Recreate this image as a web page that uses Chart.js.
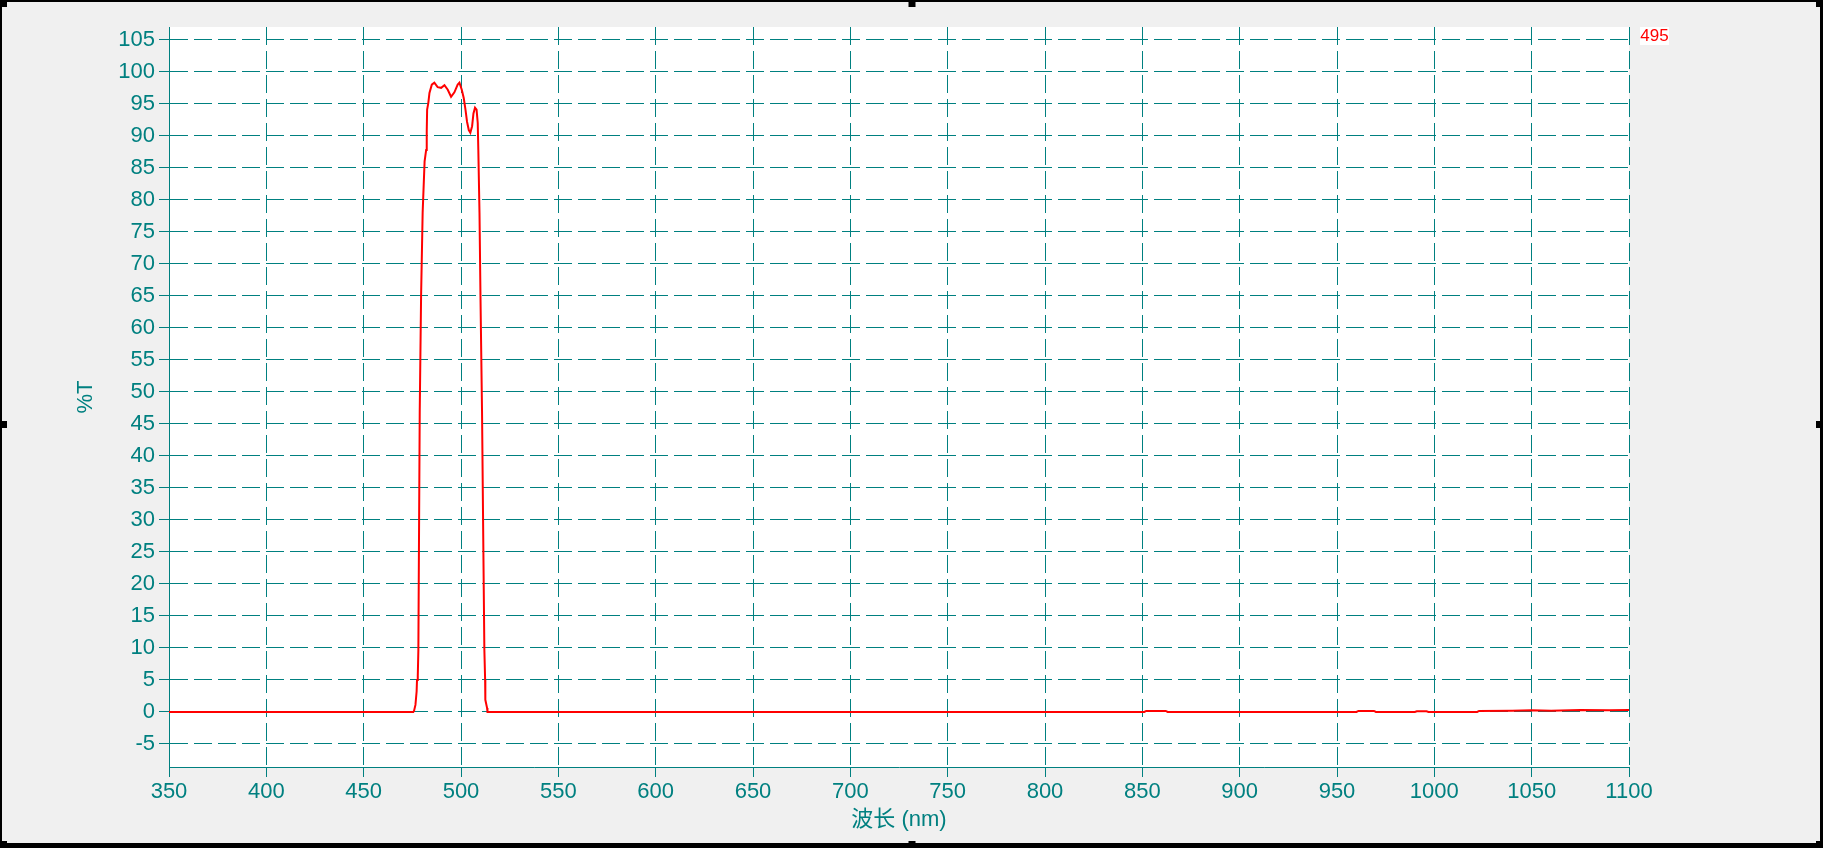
<!DOCTYPE html>
<html>
<head>
<meta charset="utf-8">
<script src="https://cdn.jsdelivr.net/npm/chart.js@4/dist/chart.umd.min.js"></script>
<style>
  html, body { margin: 0; padding: 0; background: #f0f0f0; }
  canvas { display: block; }
</style>
</head>
<body>
<canvas id="myChart" width="1823" height="848"></canvas>
<script>
// wavelength (nm) and transmittance (%T)
const wavelengths = [350, 475.5, 475.9, 476.6, 477.2, 477.4, 477.8, 478.1, 478.8, 479.5, 480.3, 481.3, 482.1,
  482.4, 482.6, 483.2, 483.8, 485.0, 486.3, 488.0, 489.8, 491.5, 493.2, 494.9, 496.6, 498.3, 499.2,
  500.4, 501.4, 502.3, 503.1, 504.0, 504.8, 505.7, 506.4, 507.2, 508.0, 508.6, 508.9, 509.5, 510.0,
  510.8, 511.5, 512.0, 512.4, 512.5, 513.4, 513.6,
  851, 852, 862, 863, 960, 961, 969, 970, 990, 991, 996, 997, 1022, 1023, 1040, 1050, 1060, 1075, 1090, 1100];
const transmittance = [0, 0, 0.2, 1.1, 3.2, 5.0, 5.6, 9.7, 47, 65, 78, 86, 87.8,
  90.7, 94.1, 95.1, 96.7, 98.0, 98.3, 97.6, 97.5, 97.9, 97.2, 96.1, 96.8, 98.0, 98.3,
  97.2, 95.9, 94.1, 92.2, 90.9, 90.5, 91.5, 93.5, 94.4, 94.1, 92.0, 87.8, 78, 65,
  47, 25, 9.7, 5.0, 1.9, 0.6, 0,
  0, 0.16, 0.16, 0, 0, 0.16, 0.16, 0, 0, 0.1, 0.1, 0, 0, 0.16, 0.2, 0.25, 0.2, 0.3, 0.25, 0.3];

const xTicks = [350, 400, 450, 500, 550, 600, 650, 700, 750, 800, 850, 900, 950, 1000, 1050, 1100];
const yTicks = [-5, 0, 5, 10, 15, 20, 25, 30, 35, 40, 45, 50, 55, 60, 65, 70, 75, 80, 85, 90, 95, 100, 105];
const markerLabel = "495";

const teal = "#008080";
const fontFam = "'Liberation Sans', Arial, 'Noto Sans CJK SC', sans-serif";

const points = wavelengths.map((w, i) => ({ x: w, y: transmittance[i] }));

const backdrop = {
  id: "backdrop",
  beforeDraw(chart) {
    const { ctx, chartArea: a, width, height } = chart;
    ctx.save();
    ctx.fillStyle = "#f0f0f0";
    ctx.fillRect(0, 0, width, height);
    ctx.fillStyle = "#ffffff";
    ctx.fillRect(a.left, a.top, a.right - a.left, a.bottom - a.top);
    ctx.restore();
  },
  afterDraw(chart) {
    const { ctx, width, height } = chart;
    ctx.save();
    // window frame + handles
    ctx.fillStyle = "#000";
    ctx.fillRect(0, 0, width, 2);
    ctx.fillRect(0, 0, 2, height);
    ctx.fillRect(width - 3, 0, 3, height);
    ctx.fillRect(0, height - 5, width, 5);
    const hs = 7;
    [[0, 0], [width / 2 - 3, 0], [width - hs, 0], [0, height / 2 - 3], [width - hs, height / 2 - 3],
     [0, height - hs], [width / 2 - 3, height - hs], [width - hs, height - hs]].forEach(p => {
      ctx.fillRect(p[0], p[1], hs, hs);
    });
    // marker label top right
    ctx.fillStyle = "#ffffff";
    ctx.fillRect(1640, 27, 29, 18);
    ctx.fillStyle = "#ff0000";
    ctx.font = "17px " + fontFam;
    ctx.textAlign = "center";
    ctx.textBaseline = "middle";
    ctx.fillText(markerLabel, 1654.5, 36.5);
    ctx.restore();
  }
};

new Chart("myChart", {
  type: "line",
  data: {
    datasets: [{
      data: points,
      borderColor: "#ff0000",
      borderWidth: 2,
      pointRadius: 0,
      tension: 0,
      fill: false
    }]
  },
  options: {
    responsive: false,
    animation: false,
    layout: { padding: { left: 0, top: 27, right: 194, bottom: 0 } },
    plugins: { legend: { display: false }, tooltip: { enabled: false } },
    scales: {
      x: {
        type: "linear",
        min: 350,
        max: 1100,
        afterBuildTicks: (s) => { s.ticks = xTicks.map(v => ({ value: v })); },
        afterFit: (s) => { s.height = 81; },
        ticks: { color: teal, font: { size: 22, family: fontFam }, padding: 2, maxRotation: 0, autoSkip: false,
          callback: (v) => String(v) },
        grid: { color: teal, lineWidth: 1, drawTicks: true, tickLength: 10, tickColor: teal, tickBorderDash: [] },
        border: { display: true, color: teal, width: 1, dash: [18, 6] },
        title: { display: true, text: "波长 (nm)", color: teal, font: { size: 22, family: fontFam }, padding: { top: 0, bottom: 15 } }
      },
      y: {
        min: -8.6,
        max: 107,
        afterBuildTicks: (s) => { s.ticks = yTicks.map(v => ({ value: v })); },
        afterFit: (s) => { s.width = 169; },
        ticks: { color: teal, font: { size: 22, family: fontFam }, padding: 4, autoSkip: false,
          callback: (v) => String(v) },
        grid: { color: teal, lineWidth: 1, drawTicks: true, tickLength: 10, tickColor: teal, tickBorderDash: [] },
        border: { display: true, color: teal, width: 1, dash: [18, 6] },
        title: { display: true, text: "%T", color: teal, font: { size: 22, family: fontFam }, padding: { top: 73, bottom: 0 } }
      }
    }
  },
  plugins: [backdrop]
});
</script>
</body>
</html>
